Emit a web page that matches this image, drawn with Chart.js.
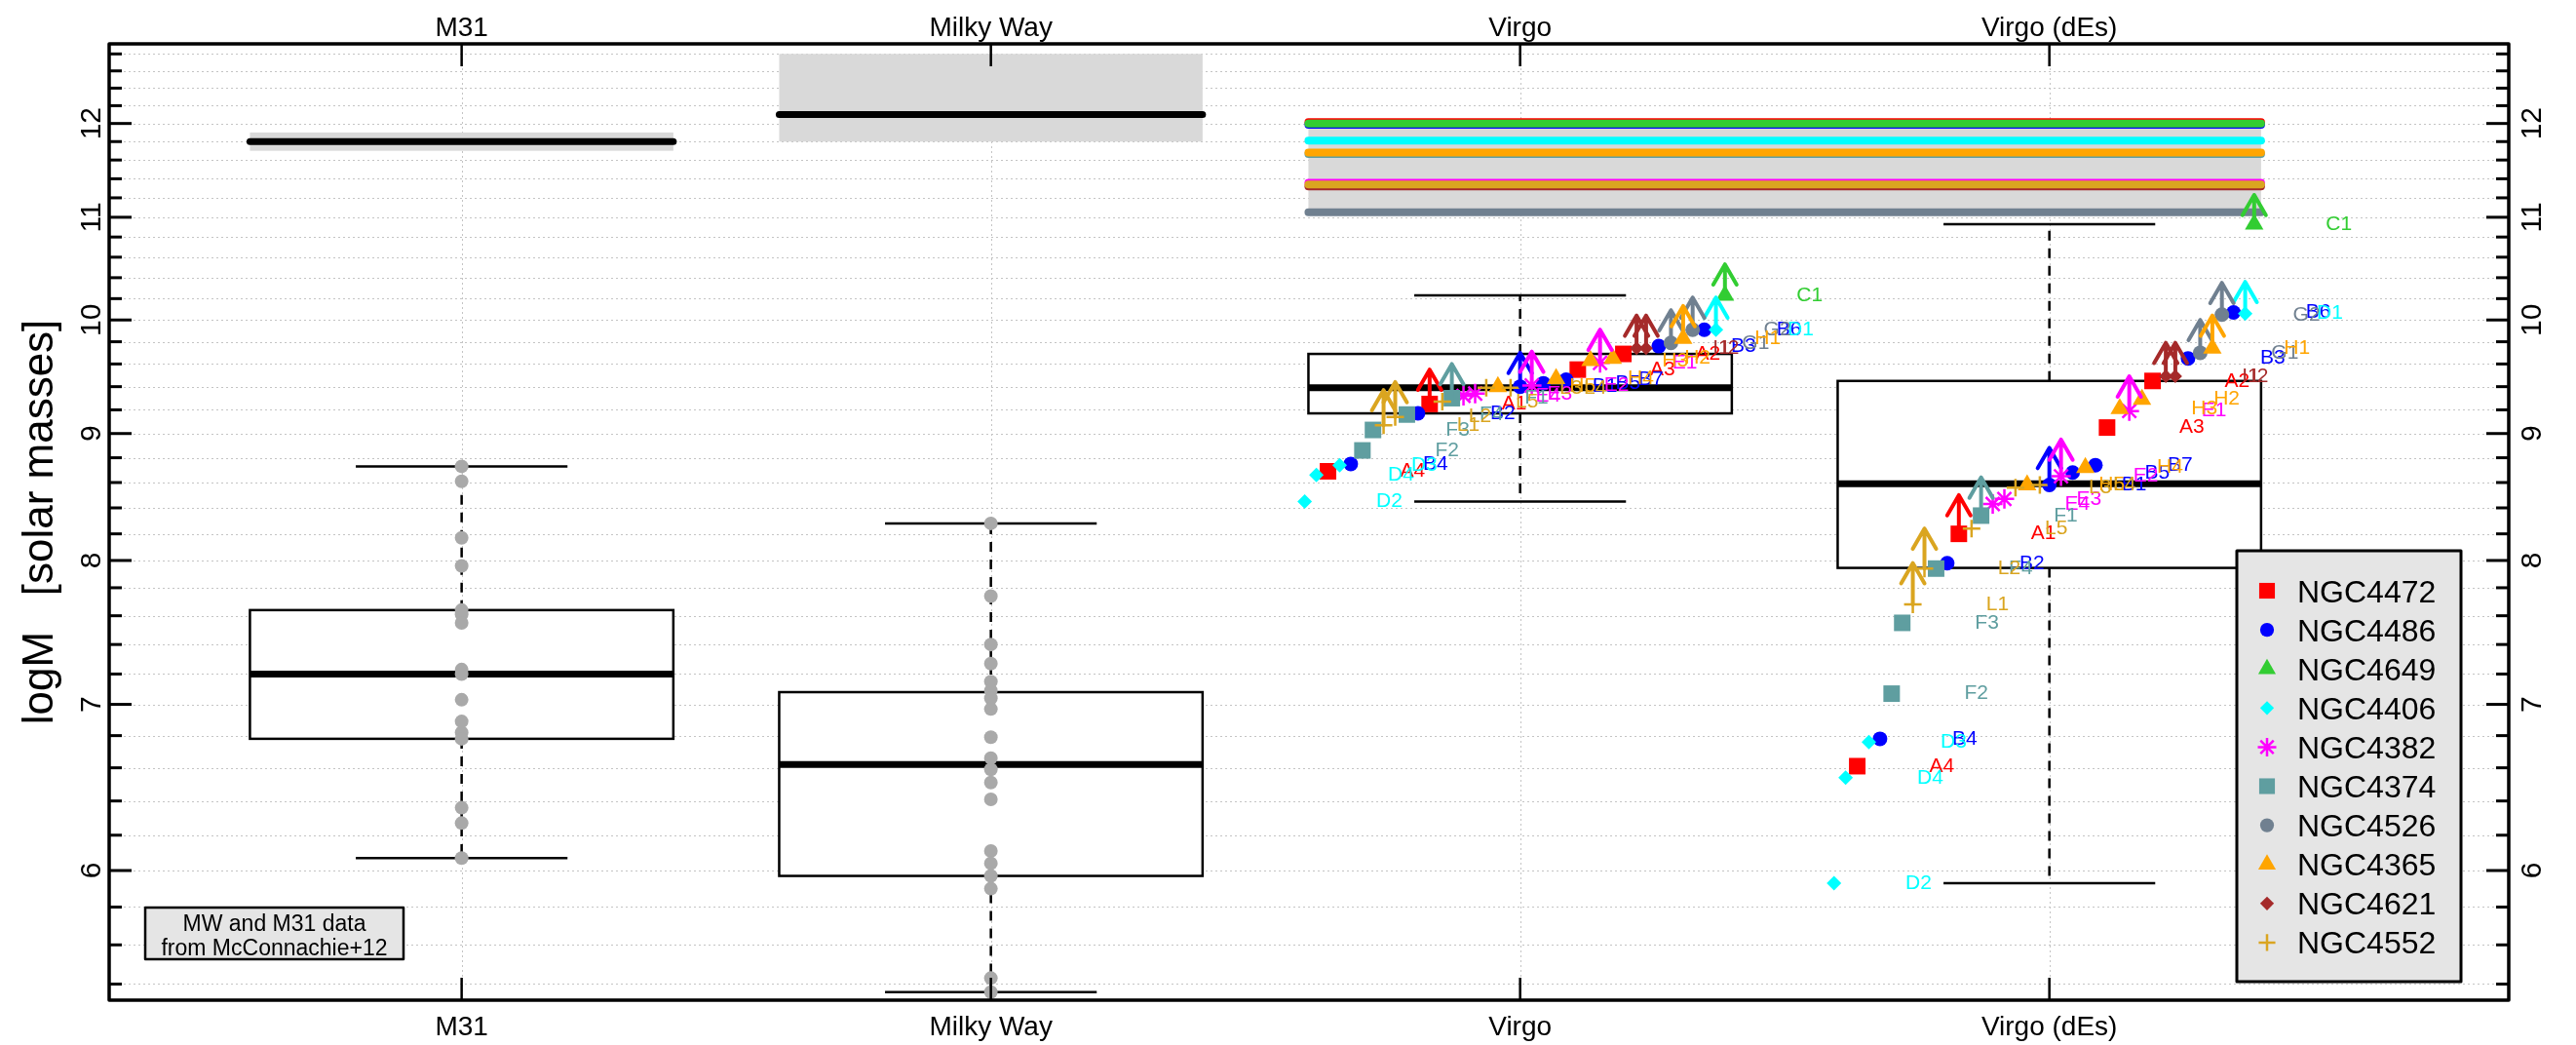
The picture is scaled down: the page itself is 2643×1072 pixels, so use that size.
<!DOCTYPE html>
<html><head><meta charset="utf-8">
<script src="https://cdn.jsdelivr.net/npm/chart.js@4/dist/chart.umd.min.js"></script>
<style>html,body{margin:0;padding:0;background:#fff;}#wrap{width:2643px;height:1072px;}</style>
</head><body><div id="wrap"><canvas id="c" width="2643" height="1072"></canvas></div>
<script>
// ---------------- data ----------------
const categories = ['M31', 'Milky Way', 'Virgo', 'Virgo (dEs)'];
const yTickLabels = [6, 7, 8, 9, 10, 11, 12];
const yMinorStep = 0.2;
const yGridStart = 5.4, yGridEnd = 12.8;
const yMin = 5.32, yMax = 12.92;
const xMin = 0.334, xMax = 4.868;

// boxplot statistics per category
const boxLow  = [6.07, 5.36, 8.45, 5.93];
const boxQ1   = [6.78, 5.97, 9.17, 7.945];
const boxMed  = [7.20, 6.62, 9.39, 8.59];
const boxQ3   = [7.64, 7.08, 9.69, 9.45];
const boxHigh = [8.73, 8.28, 10.23, 10.93];

// individual satellites (McConnachie+12)
const m31Sats = [8.73, 8.61, 8.17, 7.96, 7.64, 7.61, 7.55, 7.23, 7.20, 7.03, 6.89, 6.82, 6.78, 6.36, 6.27, 6.07];
const mwSats = [8.28, 7.74, 7.40, 7.27, 7.15, 7.09, 7.04, 6.97, 6.79, 6.66, 6.59, 6.51, 6.41, 6.11, 6.04, 5.97, 5.90, 5.43, 5.36];

// host masses for M31 / MW (median and range)
const hostNames = ['M31', 'Milky Way'];
const hostMass = [11.8, 12.1];
const hostLow = [11.7, 11.8];
const hostHigh = [11.9, 12.8];

// Virgo host galaxies
const galaxies = ['NGC4472', 'NGC4486', 'NGC4649', 'NGC4406', 'NGC4382', 'NGC4374', 'NGC4526', 'NGC4365', 'NGC4621', 'NGC4552'];
const galaxyColors = ['#FF0000', '#0000FF', '#32CD32', '#00FFFF', '#FF00FF', '#5F9EA0', '#708090', '#FFA500', '#A52A2A', '#DAA520'];
const galaxyStyle = ['rect', 'circle', 'triangle', 'rectRot', 'star', 'rect', 'circle', 'triangle', 'rectRot', 'cross'];
const galaxyMass = [12.015, 11.985, 12.0, 11.81, 11.357, 11.665, 11.05, 11.68, 11.32, 11.34];
const virgoBand = [11.05, 12.01];

// satellites of each Virgo host: label, horizontal offset within category, mass (Virgo), mass (Virgo dEs), lower-limit flag
const satLabels = [
  ['A1', 'A2', 'A3', 'A4'],
  ['B1', 'B2', 'B3', 'B4', 'B5', 'B6', 'B7'],
  ['C1'],
  ['D1', 'D2', 'D3', 'D4'],
  ['E1', 'E2', 'E3', 'E4'],
  ['F1', 'F2', 'F3', 'F4'],
  ['G1', 'G2'],
  ['H1', 'H2', 'H3', 'H4', 'H5'],
  ['I1', 'I2'],
  ['L1', 'L2', 'L3', 'L4', 'L5']
];
const satOffset = [
  [-0.171, 0.195, 0.109, -0.363],
  [0.000, -0.193, 0.262, -0.320, 0.044, 0.348, 0.087],
  [0.387],
  [0.370, -0.407, -0.341, -0.385],
  [0.151, 0.022, -0.085, -0.107],
  [-0.129, -0.298, -0.278, -0.214],
  [0.285, 0.326],
  [0.308, 0.175, 0.133, 0.068, -0.042],
  [0.220, 0.238],
  [-0.258, -0.236, -0.064, -0.018, -0.147]
];
const satVirgo = [
  [9.25, 9.69, 9.55, 8.69],
  [9.40, 9.17, 9.76, 8.75, 9.43, 9.91, 9.46],
  [10.23],
  [9.91, 8.45, 8.74, 8.66],
  [9.61, 9.41, 9.34, 9.32],
  [9.30, 8.86, 9.03, 9.16],
  [9.79, 9.91],
  [9.83, 9.65, 9.63, 9.47, 9.40],
  [9.74, 9.74],
  [9.07, 9.14, 9.39, 9.39, 9.27]
];
const satDEs = [
  [8.20, 9.45, 9.05, 6.61],
  [8.58, 7.98, 9.65, 6.78, 8.68, 10.07, 8.74],
  [10.93],
  [10.06, 5.93, 6.76, 6.54],
  [9.19, 8.65, 8.47, 8.43],
  [8.34, 7.07, 7.55, 7.94],
  [9.70, 10.05],
  [9.74, 9.29, 9.21, 8.72, 8.58],
  [9.49, 9.49],
  [7.68, 7.94, 8.56, 8.58, 8.24]
];
const satLimit = [
  [1, 0, 0, 0],
  [1, 0, 0, 0, 0, 0, 0],
  [1],
  [1, 0, 0, 0],
  [1, 1, 0, 0],
  [1, 0, 0, 0],
  [1, 1],
  [1, 0, 0, 0, 0],
  [1, 1],
  [1, 1, 0, 0, 0]
];
const noteLines = ['MW and M31 data', 'from McConnachie+12'];
const yTitle = 'logM   [solar masses]';

// ---------------- styling constants ----------------
const FONT = '"Liberation Sans", Arial, Helvetica, sans-serif';
const boxHalf = 0.4, stapleHalf = 0.2, arrowLen = 0.3, labelDx = 0.16;
const virgoLineStart = 3 - boxHalf, virgoLineEnd = 4 + boxHalf;
const styleRadius = {rect: 12, circle: 7.5, triangle: 11, rectRot: 7.5, star: 10, cross: 9};

// ---------------- datasets ----------------
const datasets = [];
galaxies.forEach((g, i) => {
  datasets.push({
    label: g + ' host', showLine: true, tension: 0,
    data: [{x: virgoLineStart, y: galaxyMass[i]}, {x: virgoLineEnd, y: galaxyMass[i]}],
    borderColor: galaxyColors[i], borderWidth: 8, borderCapStyle: 'round', pointRadius: 0
  });
});
hostNames.forEach((h, i) => {
  datasets.push({
    label: h + ' host', showLine: true, tension: 0,
    data: [{x: i + 1 - boxHalf, y: hostMass[i]}, {x: i + 1 + boxHalf, y: hostMass[i]}],
    borderColor: '#000', borderWidth: 7, borderCapStyle: 'round', pointRadius: 0
  });
});
datasets.push({label: 'M31 sats', data: m31Sats.map(v => ({x: 1, y: v})), pointStyle: 'circle', pointRadius: 7,
  pointBackgroundColor: '#a9a9a9', pointBorderWidth: 0});
datasets.push({label: 'MW sats', data: mwSats.map(v => ({x: 2, y: v})), pointStyle: 'circle', pointRadius: 7,
  pointBackgroundColor: '#a9a9a9', pointBorderWidth: 0});
galaxies.forEach((g, i) => {
  const pts = [];
  satOffset[i].forEach((o, j) => {
    pts.push({x: 3 + o, y: satVirgo[i][j]});
    pts.push({x: 4 + o, y: satDEs[i][j]});
  });
  const st = galaxyStyle[i];
  const lined = (st === 'star' || st === 'cross');
  datasets.push({label: g, data: pts, pointStyle: st, pointRadius: styleRadius[st] - (i === 8 ? 0.5 : 0),
    pointBackgroundColor: galaxyColors[i], pointBorderColor: galaxyColors[i], pointBorderWidth: lined ? 2.5 : 0});
});
datasets.forEach((d, i) => { d.order = -i; d.pointHoverRadius = d.pointRadius; });

// ---------------- helpers ----------------
function line(ctx, x1, y1, x2, y2) { ctx.beginPath(); ctx.moveTo(x1, y1); ctx.lineTo(x2, y2); ctx.stroke(); }
function drawMarker(ctx, style, x, y, r, color, lw) {
  ctx.save(); ctx.fillStyle = color; ctx.strokeStyle = color; ctx.lineWidth = lw; ctx.beginPath();
  if (style === 'rect') { const s = r * Math.SQRT1_2; ctx.rect(x - s, y - s, 2 * s, 2 * s); ctx.fill(); }
  else if (style === 'circle') { ctx.arc(x, y, r, 0, 2 * Math.PI); ctx.fill(); }
  else if (style === 'triangle') {
    for (let k = 0; k < 3; k++) { const a = k * 2 * Math.PI / 3; const px = x + Math.sin(a) * r, py = y - Math.cos(a) * r; k ? ctx.lineTo(px, py) : ctx.moveTo(px, py); }
    ctx.closePath(); ctx.fill();
  } else if (style === 'rectRot') {
    ctx.moveTo(x, y - r); ctx.lineTo(x + r, y); ctx.lineTo(x, y + r); ctx.lineTo(x - r, y); ctx.closePath(); ctx.fill();
  } else if (style === 'cross' || style === 'star') {
    ctx.moveTo(x, y - r); ctx.lineTo(x, y + r); ctx.moveTo(x - r, y); ctx.lineTo(x + r, y);
    if (style === 'star') { const d = r * Math.SQRT1_2; ctx.moveTo(x - d, y - d); ctx.lineTo(x + d, y + d); ctx.moveTo(x - d, y + d); ctx.lineTo(x + d, y - d); }
    ctx.stroke();
  }
  ctx.restore();
}
function gridValues() {
  const out = [];
  for (let k = 0; ; k++) { const v = +(yGridStart + k * yMinorStep).toFixed(2); if (v > yGridEnd + 1e-9) break; out.push(v); }
  return out;
}

// ---------------- plugin ----------------
const deco = {
  id: 'deco',
  beforeDatasetsDraw(chart) {
    const {ctx, chartArea: a, scales: {x: xs, y: ys}} = chart;
    const px = v => xs.getPixelForValue(v), py = v => ys.getPixelForValue(v);
    ctx.save();
    // grid
    ctx.strokeStyle = '#c4c4c4'; ctx.lineWidth = 1; ctx.setLineDash([2, 3]);
    gridValues().forEach(v => { const y = Math.round(py(v)) + 0.5; line(ctx, a.left, y, a.right, y); });
    categories.forEach((c, i) => { const x = Math.round(px(i + 1)) + 0.5; line(ctx, x, a.top, x, a.bottom); });
    ctx.setLineDash([]);
    // host mass bands
    ctx.fillStyle = '#d9d9d9';
    hostNames.forEach((h, i) => {
      const l = px(i + 1 - boxHalf), r = px(i + 1 + boxHalf), t = py(hostHigh[i]), b = py(hostLow[i]);
      ctx.fillRect(l, t, r - l, b - t);
    });
    { const l = px(virgoLineStart), r = px(virgoLineEnd), t = py(virgoBand[1]), b = py(virgoBand[0]); ctx.fillRect(l, t, r - l, b - t); }
    // boxes
    categories.forEach((c, i) => {
      const cx = px(i + 1), l = px(i + 1 - boxHalf), r = px(i + 1 + boxHalf);
      const sl = px(i + 1 - stapleHalf), sr = px(i + 1 + stapleHalf);
      ctx.strokeStyle = '#000'; ctx.lineWidth = 2.5; ctx.setLineDash([10, 8]);
      line(ctx, cx, py(boxQ3[i]), cx, py(boxHigh[i]));
      line(ctx, cx, py(boxQ1[i]), cx, py(boxLow[i]));
      ctx.setLineDash([]);
      line(ctx, sl, py(boxHigh[i]), sr, py(boxHigh[i]));
      line(ctx, sl, py(boxLow[i]), sr, py(boxLow[i]));
      const t = py(boxQ3[i]), b = py(boxQ1[i]);
      ctx.fillStyle = '#fff'; ctx.fillRect(l, t, r - l, b - t);
      ctx.strokeRect(l, t, r - l, b - t);
      ctx.lineWidth = 7; line(ctx, l, py(boxMed[i]), r, py(boxMed[i]));
    });
    ctx.restore();
  },
  afterDatasetsDraw(chart) {
    const {ctx, chartArea: a, scales: {x: xs, y: ys}} = chart;
    const px = v => xs.getPixelForValue(v), py = v => ys.getPixelForValue(v);
    ctx.save();
    // lower-limit arrows
    ctx.lineCap = 'round'; ctx.lineJoin = 'round';
    galaxies.forEach((g, i) => {
      ctx.strokeStyle = galaxyColors[i]; ctx.lineWidth = 4;
      satLimit[i].forEach((f, j) => {
        if (!f) return;
        [[3, satVirgo[i][j]], [4, satDEs[i][j]]].forEach(([cat, v]) => {
          const x = px(cat + satOffset[i][j]), y0 = py(v), y1 = py(v + arrowLen);
          const L = 24, ang = Math.PI / 6;
          ctx.beginPath(); ctx.moveTo(x, y0); ctx.lineTo(x, y1);
          ctx.moveTo(x - L * Math.sin(ang), y1 + L * Math.cos(ang)); ctx.lineTo(x, y1); ctx.lineTo(x + L * Math.sin(ang), y1 + L * Math.cos(ang));
          ctx.stroke();
        });
      });
    });
    // satellite labels
    ctx.font = '21px ' + FONT; ctx.textAlign = 'center'; ctx.textBaseline = 'middle';
    galaxies.forEach((g, i) => {
      ctx.fillStyle = galaxyColors[i];
      satLabels[i].forEach((lab, j) => {
        ctx.fillText(lab, px(3 + satOffset[i][j] + labelDx), py(satVirgo[i][j]));
        ctx.fillText(lab, px(4 + satOffset[i][j] + labelDx), py(satDEs[i][j]));
      });
    });
    // frame
    ctx.lineCap = 'butt';
    ctx.strokeStyle = '#000'; ctx.lineWidth = 3.5;
    ctx.strokeRect(a.left, a.top, a.right - a.left, a.bottom - a.top);
    // y ticks (inward) both sides
    ctx.lineWidth = 3;
    gridValues().forEach(v => {
      const y = py(v); const major = Math.abs(v - Math.round(v)) < 1e-6;
      const len = major ? 23 : 13;
      line(ctx, a.left, y, a.left + len, y);
      line(ctx, a.right, y, a.right - len, y);
    });
    // x ticks top / bottom
    ctx.lineWidth = 2.5;
    categories.forEach((c, i) => {
      const x = px(i + 1);
      line(ctx, x, a.top, x, a.top + 23);
      line(ctx, x, a.bottom, x, a.bottom - 23);
    });
    // tick labels
    ctx.fillStyle = '#000'; ctx.font = '30px ' + FONT; ctx.textAlign = 'center'; ctx.textBaseline = 'alphabetic';
    yTickLabels.forEach(v => {
      [a.left - 9, a.right + 33].forEach(bx => {
        ctx.save(); ctx.translate(bx, py(v)); ctx.rotate(-Math.PI / 2); ctx.fillText(String(v), 0, 0); ctx.restore();
      });
    });
    ctx.font = '28px ' + FONT;
    categories.forEach((c, i) => {
      ctx.fillText(c, px(i + 1), a.top - 8);
      ctx.fillText(c, px(i + 1), a.bottom + 36);
    });
    // y title
    ctx.font = '44px ' + FONT;
    ctx.save(); ctx.translate(54, (a.top + a.bottom) / 2); ctx.rotate(-Math.PI / 2); ctx.fillText(yTitle, 0, 0); ctx.restore();
    // legend
    const lx0 = a.right - 279, lx1 = a.right - 49, ly0 = a.bottom - 461, ly1 = a.bottom - 19;
    ctx.fillStyle = '#e5e5e5'; ctx.fillRect(lx0, ly0, lx1 - lx0, ly1 - ly0);
    ctx.lineWidth = 3; ctx.strokeRect(lx0, ly0, lx1 - lx0, ly1 - ly0);
    ctx.font = '32px ' + FONT; ctx.textAlign = 'left';
    galaxies.forEach((g, i) => {
      const yc = ly0 + 41 + i * 40.1;
      const st = galaxyStyle[i];
      drawMarker(ctx, st, a.right - 248, yc, styleRadius[st] * 0.95, galaxyColors[i], 2.5);
      ctx.fillStyle = '#000'; ctx.fillText(g, a.right - 217, yc + 11.5);
    });
    // note box
    const nx0 = a.left + 37, nx1 = a.left + 302, ny0 = a.bottom - 95, ny1 = a.bottom - 42;
    ctx.fillStyle = '#e5e5e5'; ctx.fillRect(nx0, ny0, nx1 - nx0, ny1 - ny0);
    ctx.lineWidth = 2.5; ctx.strokeRect(nx0, ny0, nx1 - nx0, ny1 - ny0);
    ctx.fillStyle = '#000'; ctx.font = '23px ' + FONT; ctx.textAlign = 'center';
    ctx.fillText(noteLines[0], (nx0 + nx1) / 2, ny0 + 24);
    ctx.fillText(noteLines[1], (nx0 + nx1) / 2, ny0 + 49);
    ctx.restore();
  }
};

new Chart(document.getElementById('c'), {
  type: 'scatter',
  data: {datasets},
  options: {
    responsive: false, devicePixelRatio: 1, animation: false, events: [],
    layout: {padding: {left: 112, top: 45, right: 69, bottom: 46}},
    plugins: {legend: {display: false}, tooltip: {enabled: false}},
    scales: {
      x: {type: 'linear', display: false, min: xMin, max: xMax, bounds: 'data'},
      y: {type: 'logarithmic', display: false, min: yMin, max: yMax, bounds: 'data'}
    }
  },
  plugins: [deco]
});
</script>
</body></html>
